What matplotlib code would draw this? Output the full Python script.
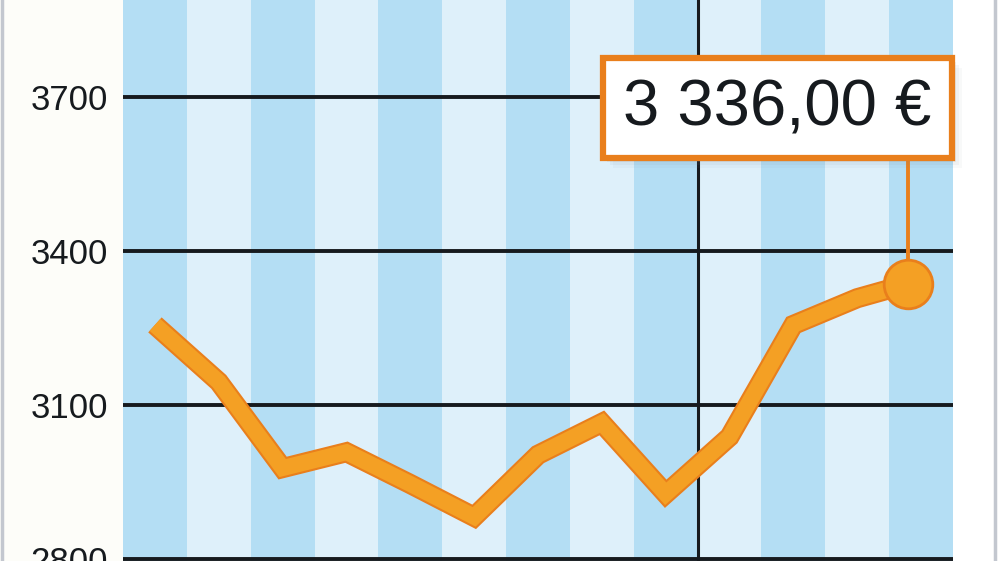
import matplotlib
matplotlib.use("Agg")
import matplotlib.pyplot as plt
from matplotlib.patches import Rectangle

# Monatswerte (Euro), letzter Punkt = aktueller Stand
months = [0, 1, 2, 3, 4, 5, 6, 7, 8, 9, 10, 11, 11.8]
values = [3256, 3145, 2977, 3008, 2946, 2882, 3003, 3065, 2927, 3038, 3256, 3308, 3336]
yticks = [2800, 3100, 3400, 3700]
n_stripes = 13
year_break = 8.5
label = "3 336,00 €"

font = ["Liberation Sans", "DejaVu Sans"]
dark_blue = "#b4def4"
light_blue = "#def0fa"
orange_fill = "#f4a024"
orange_edge = "#e97f1c"

fig = plt.figure(figsize=(10, 5.61), dpi=100, facecolor="#fdfdf9")
ax = fig.add_axes([0.123, 0, 0.83, 1])

# Streifen
for i in range(n_stripes):
    ax.axvspan(i - 0.5, i + 0.5, color=dark_blue if i % 2 == 0 else light_blue, lw=0, zorder=0)

for y in yticks:
    ax.axhline(y, color="#161a1e", lw=2.8, zorder=1)
ax.axvline(year_break, color="#161a1e", lw=2.2, zorder=1)

ax.set_xlim(-0.5, n_stripes - 0.5)
ax.set_ylim(2796, 3889)
ax.set_xticks([])
ax.set_yticks(yticks)
ax.set_yticklabels([str(v) for v in yticks], fontsize=25, family=font, color="#161a1e")
ax.tick_params(axis="y", length=0, pad=11)
for s in ax.spines.values():
    s.set_visible(False)

# Verbindungslinie zum Label
ax.vlines(months[-1], values[-1], 3700, color=orange_edge, lw=2.8, zorder=2)

ax.plot(months, values, color=orange_edge, lw=14.5, solid_joinstyle="miter",
        solid_capstyle="butt", zorder=3)
ax.plot(months, values, color=orange_fill, lw=11.5, solid_joinstyle="miter",
        solid_capstyle="butt", zorder=4)
ax.plot(months[-1], values[-1], "o", ms=35, mfc=orange_fill, mec=orange_edge, mew=2, zorder=5)

# Label-Box mit Schatten
bx, by, bw, bh = 0.603, 1 - 158 / 561, 0.349, 100 / 561
for k, a in [(10, 0.05), (7, 0.07), (4, 0.1)]:
    fig.patches.append(Rectangle((bx + k / 1000, by - k / 561), bw, bh, transform=fig.transFigure,
                                 facecolor="#7a8a99", alpha=a, lw=0, zorder=6))
fig.patches.append(Rectangle((bx, by), bw, bh, transform=fig.transFigure,
                             facecolor="white", edgecolor=orange_edge, lw=4.5, zorder=7))
fig.text(bx + bw / 2, by + bh / 2, label, ha="center", va="center", fontsize=47,
         family=font, color="#161a1e", zorder=8)

# Rahmenlinien
fig.patches.append(Rectangle((0.953, 0), 0.047, 1, transform=fig.transFigure,
                             facecolor="white", lw=0, zorder=-1))
fig.add_artist(plt.Line2D([0.0015, 0.0015], [0, 1], transform=fig.transFigure,
                          color="#c3c7cf", lw=2.5))
fig.add_artist(plt.Line2D([0.9945, 0.9945], [0, 1], transform=fig.transFigure,
                          color="#c3c7cf", lw=2.5))

fig.savefig("out.png", dpi=100, facecolor=fig.get_facecolor())
